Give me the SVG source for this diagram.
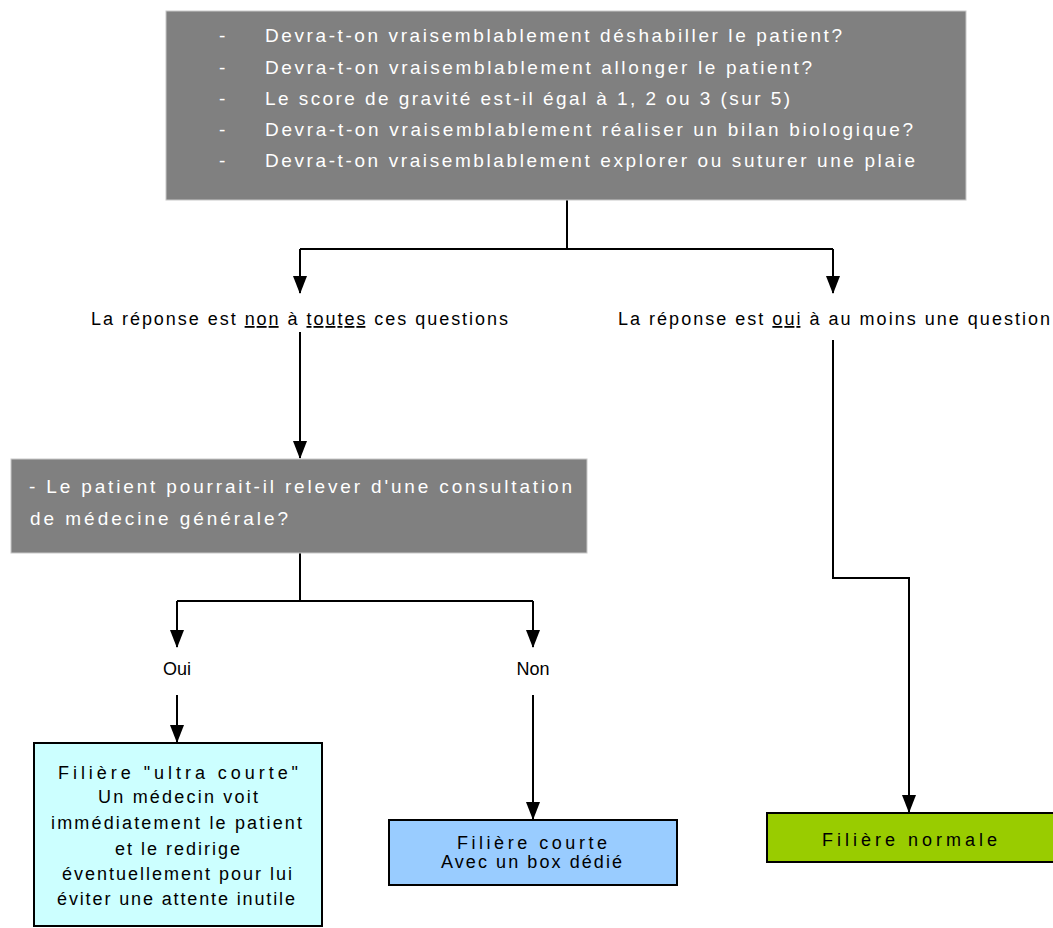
<svg xmlns="http://www.w3.org/2000/svg" width="1053" height="928" viewBox="0 0 1053 928">
<style>
.gray{fill:#808080;stroke:#c8c8c8;stroke-width:1}
.wt{font-family:"Liberation Sans",Arial,sans-serif;font-size:19px;fill:#ffffff}
.bt{font-family:"Liberation Sans",Arial,sans-serif;font-size:18px;fill:#000000}
.ct{text-anchor:middle}
.box{stroke:#000;stroke-width:2}
.con{fill:none;stroke:#000;stroke-width:2}
</style>
<defs>
<marker id="arrd" markerUnits="userSpaceOnUse" markerWidth="14" markerHeight="18" viewBox="0 0 14 18" refX="7" refY="17" orient="0">
<path d="M0,0 L14,0 L7,18 Z" fill="#000"/>
</marker>
</defs>
<rect width="1053" height="928" fill="#ffffff"/>
<g id="connectors">
<path class="con" d="M567,200 V249 M300,249 H833"/>
<path class="con" d="M300,249 V293" marker-end="url(#arrd)"/>
<path class="con" d="M833,249 V293" marker-end="url(#arrd)"/>
<path class="con" d="M300,332 V458" marker-end="url(#arrd)"/>
<path class="con" d="M833,340 V578 H909 V812" marker-end="url(#arrd)"/>
<path class="con" d="M300,553 V601 M177,601 H533"/>
<path class="con" d="M177,601 V647" marker-end="url(#arrd)"/>
<path class="con" d="M533,601 V647" marker-end="url(#arrd)"/>
<path class="con" d="M177,695 V742" marker-end="url(#arrd)"/>
<path class="con" d="M533,695 V819" marker-end="url(#arrd)"/>
</g>
<g id="questions">
<rect class="gray" x="166" y="11" width="800" height="189"/>
<g class="wt">
<text x="219" y="42">-</text><text x="265" y="42" textLength="577" lengthAdjust="spacing">Devra-t-on vraisemblablement déshabiller le patient?</text>
<text x="219" y="74">-</text><text x="265" y="74" textLength="547" lengthAdjust="spacing">Devra-t-on vraisemblablement allonger le patient?</text>
<text x="219" y="105">-</text><text x="265" y="105" textLength="525" lengthAdjust="spacing">Le score de gravité est-il égal à 1, 2 ou 3 (sur 5)</text>
<text x="219" y="136">-</text><text x="265" y="136" textLength="648" lengthAdjust="spacing">Devra-t-on vraisemblablement réaliser un bilan biologique?</text>
<text x="219" y="167">-</text><text x="265" y="167" textLength="650" lengthAdjust="spacing">Devra-t-on vraisemblablement explorer ou suturer une plaie</text>
</g>
</g>
<g id="label-non">
<text class="bt" x="91" y="325" textLength="417" lengthAdjust="spacing">La réponse est <tspan text-decoration="underline">non</tspan> à <tspan text-decoration="underline">toutes</tspan> ces questions</text>
</g>
<g id="label-oui">
<text class="bt" x="618" y="325" textLength="432" lengthAdjust="spacing">La réponse est <tspan text-decoration="underline">oui</tspan> à au moins une question</text>
</g>
<g id="consultation">
<rect class="gray" x="11" y="459" width="576" height="94"/>
<text class="wt" x="29" y="493" textLength="543" lengthAdjust="spacing">- Le patient pourrait-il relever d'une consultation</text>
<text class="wt" x="30" y="525" textLength="258" lengthAdjust="spacing">de médecine générale?</text>
</g>
<g id="oui"><text class="bt ct" x="177" y="675">Oui</text></g>
<g id="non"><text class="bt ct" x="533" y="675">Non</text></g>
<g id="ultra-courte">
<rect class="box" x="34" y="743" width="288" height="183" fill="#ccffff"/>
<g class="bt" font-size="19">
<text x="58" y="779" textLength="240" lengthAdjust="spacing">Filière "ultra courte"</text>
<text x="98" y="803" textLength="160" lengthAdjust="spacing">Un médecin voit</text>
<text x="51" y="829" textLength="251" lengthAdjust="spacing">immédiatement le patient</text>
<text x="115" y="855" textLength="125" lengthAdjust="spacing">et le redirige</text>
<text x="62" y="880" textLength="230" lengthAdjust="spacing">éventuellement pour lui</text>
<text x="57" y="905" textLength="238" lengthAdjust="spacing">éviter une attente inutile</text>
</g>
</g>
<g id="courte">
<rect class="box" x="389" y="820" width="288" height="65" fill="#99ccff"/>
<text class="bt" x="457" y="849" font-size="19" textLength="150" lengthAdjust="spacing">Filière courte</text>
<text class="bt" x="441" y="868" font-size="17" textLength="181" lengthAdjust="spacing">Avec un box dédié</text>
</g>
<g id="normale">
<rect class="box" x="767" y="813" width="290" height="49" fill="#99cc00"/>
<text class="bt" x="822" y="846" font-size="19" textLength="175" lengthAdjust="spacing">Filière normale</text>
</g>
</svg>
